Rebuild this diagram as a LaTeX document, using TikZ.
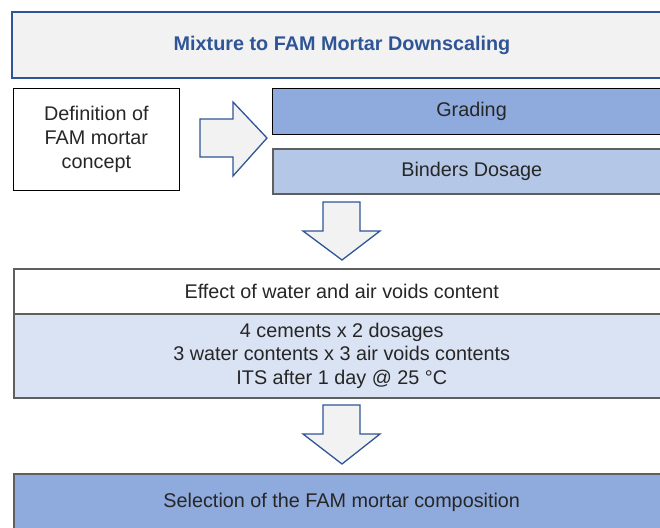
\documentclass[tikz,border=0pt]{standalone}
\usepackage{fontspec}
\setmainfont{Liberation Sans}
\definecolor{dblue}{HTML}{2F5597}
\definecolor{lgray}{HTML}{F2F2F2}
\definecolor{mblue}{HTML}{8FAADC}
\definecolor{lblue}{HTML}{B4C7E7}
\definecolor{pblue}{HTML}{DAE3F3}
\definecolor{bgray}{HTML}{5F5F5F}
\begin{document}
\begin{tikzpicture}[x=1pt,y=-1pt,
  box/.style={rectangle, anchor=north west, inner sep=0pt, align=center, font=\fontsize{19.8}{23.6}\selectfont, text=black!85},
  blockarrow/.style={draw=dblue, fill=lgray, line width=1.3pt, line join=miter}]
\clip (0,0) rectangle (660,527);
% title
\node[box, draw=dblue, fill=lgray, line width=2pt, minimum width=660pt, minimum height=66pt,
  font=\fontsize{19.8}{23}\selectfont\bfseries, text=dblue] (title) at (11,11) {Mixture to FAM Mortar Downscaling};
% definition
\node[box, draw=black, line width=0.8pt, minimum width=166pt, minimum height=102pt] (def) at (13,88) {Definition of\\FAM mortar\\concept};
% grading / binders
\node[box, draw=black, fill=mblue, line width=1.1pt, minimum width=398pt, minimum height=46pt] (grad) at (272,88) {Grading};
\node[box, draw=bgray, fill=lblue, line width=1.5pt, minimum width=398pt, minimum height=45pt] (bind) at (272,148) {Binders Dosage};
% right arrow
\draw[blockarrow] (200,119) -- (233,119) -- (233,102) -- (267,138) -- (233,176) -- (233,157) -- (200,157) -- cycle;
% effect box
\node[box, draw=bgray, line width=1.5pt, minimum width=656pt, minimum height=45pt] (eff) at (13,268) {Effect of water and air voids content};
\node[box, draw=bgray, fill=pblue, line width=1.5pt, minimum width=656pt, minimum height=84pt] (effd) at (13,313) {4 cements x 2 dosages\\3 water contents x 3 air voids contents\\ITS after 1 day @ 25 °C};
% down arrows
\draw[blockarrow] (323,202) -- (360,202) -- (360,231) -- (380,231) -- (342,260) -- (303,231) -- (323,231) -- cycle;
\draw[blockarrow] (323,405) -- (360,405) -- (360,434) -- (380,434) -- (342,464) -- (303,434) -- (323,434) -- cycle;
% selection
\node[box, draw=bgray, fill=mblue, line width=1.5pt, minimum width=656pt, minimum height=58pt] (sel) at (13,473) {Selection of the FAM mortar composition};
\end{tikzpicture}
\end{document}
